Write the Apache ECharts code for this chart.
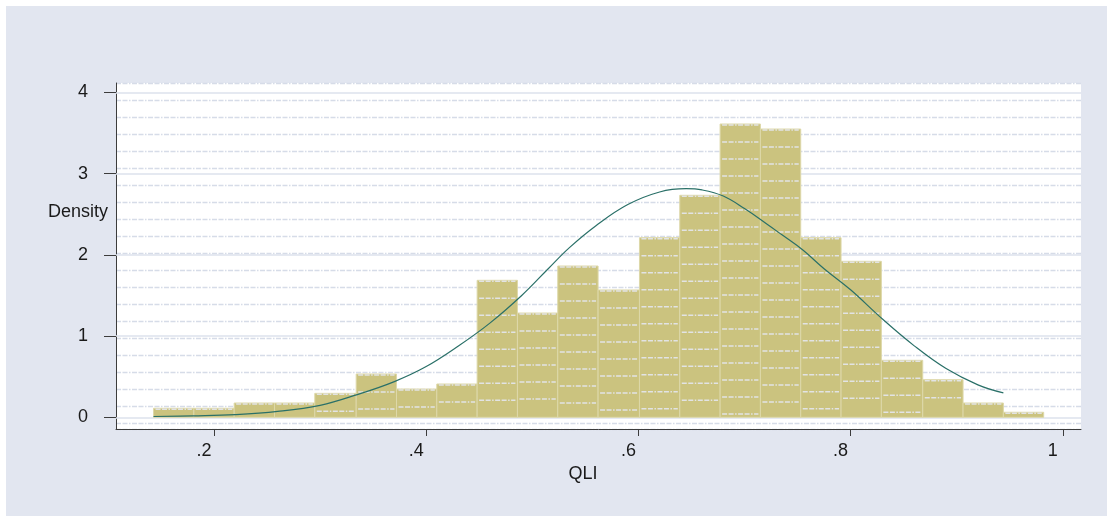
<!DOCTYPE html>
<html>
<head>
<meta charset="utf-8">
<title>QLI histogram</title>
<script src="https://cdn.jsdelivr.net/npm/echarts@6/dist/echarts.min.js"></script>
<style>
  html, body { margin: 0; padding: 0; background: #ffffff; }
  #chart { width: 1107px; height: 516px; }
</style>
</head>
<body>
<div id="chart"></div>
<script>
// Histogram bin edges of QLI (23 edges -> 22 bins)
const binEdges = [0.143, 0.181, 0.219, 0.257, 0.295, 0.334, 0.372, 0.410, 0.448, 0.486,
                  0.524, 0.562, 0.601, 0.639, 0.677, 0.715, 0.753, 0.791, 0.829, 0.868,
                  0.906, 0.944, 0.982];
// Density of each bin
const density = [0.111, 0.111, 0.176, 0.176, 0.295, 0.533, 0.348, 0.410, 1.687, 1.284,
                 1.863, 1.568, 2.212, 2.734, 3.612, 3.550, 2.212, 1.921, 0.702, 0.463,
                 0.176, 0.062];
// Normal density overlay, sampled points [QLI, density]
const normalCurve = [
  [0.143, 0.010], [0.180, 0.018], [0.220, 0.033], [0.260, 0.072], [0.300, 0.148],
  [0.335, 0.280], [0.370, 0.440], [0.400, 0.625], [0.430, 0.875], [0.460, 1.160],
  [0.490, 1.500], [0.515, 1.830], [0.535, 2.090], [0.560, 2.360], [0.590, 2.620],
  [0.620, 2.775], [0.645, 2.815], [0.660, 2.800], [0.680, 2.725], [0.700, 2.570],
  [0.720, 2.390], [0.735, 2.250], [0.755, 2.060], [0.775, 1.830], [0.800, 1.570],
  [0.830, 1.210], [0.860, 0.880], [0.890, 0.600], [0.920, 0.400], [0.944, 0.300]
];
const xTickValues = [0.2, 0.4, 0.6, 0.8, 1];
const xTickLabels = ['.2', '.4', '.6', '.8', '1'];
const yTickValues = [0, 1, 2, 3, 4];
const yTickLabels = ['0', '1', '2', '3', '4'];

const FONT = '"Liberation Sans", Arial, Helvetica, sans-serif';
const TEXT_COLOR = '#1a1a1a';
const AXIS_COLOR = '#3c3c3c';
const RULE_DASH = [5, 1.5, 5, 1.5, 1.5, 1.5];

const histData = density.map((d, i) => [binEdges[i], binEdges[i + 1], d]);

function labelFor(values, labels) {
  return function (v) {
    for (let i = 0; i < values.length; i++) {
      if (Math.abs(values[i] - v) < 1e-9) return labels[i];
    }
    return '';
  };
}

const chart = echarts.init(document.getElementById('chart'), null, { renderer: 'canvas' });

chart.setOption({
  animation: false,
  backgroundColor: '#ffffff',
  graphic: {
    elements: [
      {
        type: 'rect', z: -100, silent: true,
        shape: { x: 6, y: 6, width: 1101, height: 510 },
        style: { fill: '#e2e6f0' }
      },
      {
        type: 'text', z: 10, silent: true,
        style: {
          x: 48, y: 212, text: 'Density', fill: TEXT_COLOR,
          font: '18px ' + FONT, verticalAlign: 'middle', align: 'left'
        }
      }
    ]
  },
  grid: {
    left: 116, right: 26, top: 83, bottom: 87,
    show: true, backgroundColor: '#ffffff', borderWidth: 0
  },
  xAxis: {
    type: 'value',
    min: 0.10763, max: 1.01716,
    name: 'QLI',
    nameLocation: 'middle',
    nameGap: 30,
    nameTextStyle: { color: TEXT_COLOR, fontFamily: FONT, fontSize: 18, padding: [0, 31, 0, 0] },
    axisLine: { show: true, onZero: false, lineStyle: { color: AXIS_COLOR, width: 1 } },
    axisTick: { show: true, length: 7, customValues: xTickValues, lineStyle: { color: AXIS_COLOR } },
    axisLabel: {
      customValues: xTickValues, margin: 13, color: TEXT_COLOR, fontFamily: FONT, fontSize: 18,
      padding: [0, 20, 0, 0],
      formatter: labelFor(xTickValues, xTickLabels)
    },
    splitLine: { show: false }
  },
  yAxis: [
    {
      type: 'value',
      min: -0.144, max: 4.117,
      axisLine: { show: true, onZero: false, lineStyle: { color: AXIS_COLOR, width: 1 } },
      axisTick: { show: true, length: 12, customValues: yTickValues, lineStyle: { color: AXIS_COLOR } },
      axisLabel: {
        customValues: yTickValues, margin: 28, color: TEXT_COLOR, fontFamily: FONT, fontSize: 18,
        formatter: labelFor(yTickValues, yTickLabels)
      },
      splitLine: { show: false }
    },
    {
      // faint dashed ruling behind the plot
      type: 'value', inverse: true,
      min: 0, max: 20.353, interval: 1,
      axisLine: { show: false }, axisTick: { show: false }, axisLabel: { show: false },
      splitLine: { show: true, lineStyle: { color: '#d6dce8', width: 1.3, type: RULE_DASH } }
    }
  ],
  series: [
    {
      // major grid lines at the y ticks, kept behind the bars
      type: 'line', yAxisIndex: 0, z: 1, data: [], silent: true,
      markLine: {
        z: 1, silent: true, symbol: 'none', label: { show: false },
        lineStyle: { color: '#dde2ec', width: 1.5, type: 'solid' },
        data: yTickValues.map(v => ({ yAxis: v }))
      }
    },
    {
      type: 'custom', z: 2, yAxisIndex: 0,
      data: histData,
      encode: { x: [0, 1], y: 2 },
      renderItem: function (params, api) {
        const p0 = api.coord([api.value(0), api.value(2)]);
        const p1 = api.coord([api.value(1), 0]);
        const left = p0[0], top = p0[1];
        const w = p1[0] - p0[0], h = p1[1] - p0[1];
        const children = [{
          type: 'rect',
          shape: { x: left, y: top, width: w, height: h },
          style: { fill: '#cbc37f', stroke: '#ddd8a9', lineWidth: 1 }
        }];
        for (let y = top + 1; y < top + h - 3; y += 17) {
          children.push({
            type: 'line',
            shape: { x1: left + 2, y1: y, x2: left + w - 2, y2: y },
            style: { stroke: 'rgba(228,231,240,0.9)', lineWidth: 1.5, lineDash: RULE_DASH }
          });
        }
        return { type: 'group', children: children };
      }
    },
    {
      type: 'line', yAxisIndex: 0, z: 5,
      data: normalCurve,
      smooth: 0.4,
      showSymbol: false, symbol: 'none',
      lineStyle: { color: '#2a7068', width: 1.2 }
    }
  ]
});
</script>
</body>
</html>
